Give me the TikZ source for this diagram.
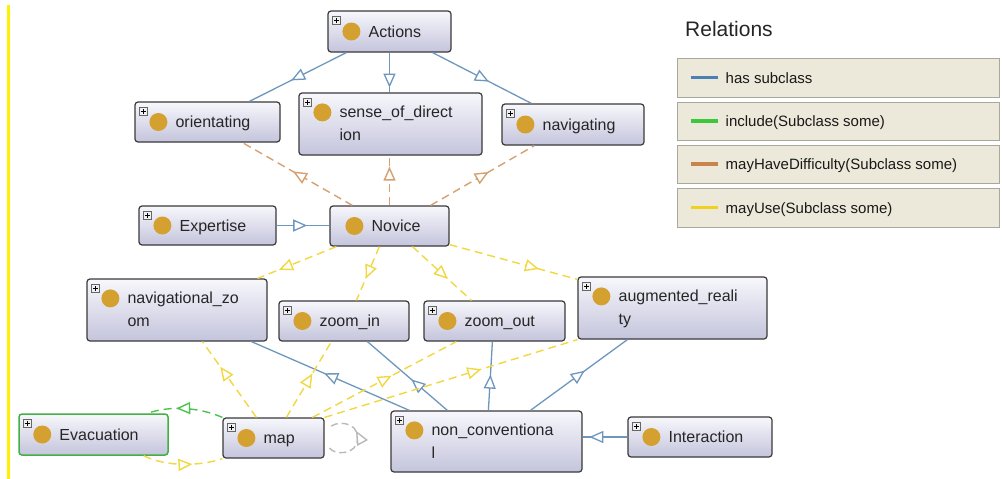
\documentclass[tikz,border=0pt]{standalone}
\usepackage{fontspec}
\setmainfont{Liberation Sans}
\usetikzlibrary{arrows.meta,decorations.markings,fit}

\definecolor{boxborder}{HTML}{3A3A3A}
\definecolor{boxtop}{HTML}{F7F7FC}
\definecolor{boxbot}{HTML}{C4C4DC}
\definecolor{gold}{HTML}{D4A030}
\definecolor{subblue}{HTML}{6E97BE}
\definecolor{incgreen}{HTML}{4CC44C}
\definecolor{diffor}{HTML}{D6A070}
\definecolor{useyel}{HTML}{F2D840}
\definecolor{legbg}{HTML}{ECE9DA}
\definecolor{legborder}{HTML}{A8A89C}
\definecolor{legblue}{HTML}{4A80B4}
\definecolor{leggreen}{HTML}{3CC83C}
\definecolor{legorange}{HTML}{C8844A}
\definecolor{legyellow}{HTML}{F0D21E}

\tikzset{
  clsbox/.style={draw=boxborder, line width=1.2pt, rounded corners=3pt,
    top color=boxtop, bottom color=boxbot, inner sep=0pt},
  lbl/.style={font=\fontsize{16}{23.5}\selectfont, inner sep=0pt, text=black!85, align=left},
  dotmark/.style={circle, fill=gold, minimum size=18pt, inner sep=0pt},
  plusbox/.style={draw=gray!80!black, fill=gray!12, minimum size=8pt, inner sep=0pt, line width=0.5pt,
    path picture={
      \draw[black, line width=0.9pt] ([xshift=1.6pt]path picture bounding box.west) -- ([xshift=-1.6pt]path picture bounding box.east);
      \draw[black, line width=0.9pt] ([yshift=-1.6pt]path picture bounding box.north) -- ([yshift=1.6pt]path picture bounding box.south);}},
  midarrow/.style={postaction={decorate, decoration={markings,
    mark=at position #1 with {\arrow{Triangle[length=14pt,width=12pt,fill=white]}}}}},
  subedge/.style={draw=subblue, line width=1.3pt},
  diffedge/.style={draw=diffor, line width=1.4pt, dash pattern=on 8pt off 5pt},
  useedge/.style={draw=useyel, line width=1.4pt, dash pattern=on 8pt off 5pt},
  incedge/.style={draw=incgreen, line width=1.4pt, dash pattern=on 8pt off 5pt},
  loopedge/.style={draw=gray!55, line width=1.4pt, dash pattern=on 7pt off 4pt},
  legrow/.style={draw=legborder, fill=legbg, line width=1pt, inner sep=0pt},
  legtxt/.style={font=\fontsize{15}{18}\selectfont, inner sep=0pt, text=black!90},
}

\newcommand\owlnode[6][]{%
  \node[clsbox,#1,fit={#3 #4}] (#2) {};
  \node[plusbox] at ([xshift=9pt,yshift=-10pt]#2.north west) {};
  \ifnum#6=0
    \node[dotmark] at ([xshift=24pt]#2.west) {};
    \node[lbl, anchor=base west] at ([xshift=41pt,yshift=-5.5pt]#2.west) {#5};
  \else
    \node[dotmark] at ([xshift=24pt,yshift=-20pt]#2.north west) {};
    \node[lbl, anchor=north west] at ([xshift=41pt,yshift=-12.5pt]#2.north west) {\rule{0pt}{12pt}#5};
  \fi}

\begin{document}
\begin{tikzpicture}[x=1pt,y=-1pt]
\useasboundingbox (0,0) rectangle (1002,479);
\fill[white] (0,0) rectangle (1002,479);
\draw[yellow, line width=3pt] (8,5) -- (8,479);

% class nodes
\owlnode{actions}{(328,11)}{(451,52)}{Actions}{0}
\owlnode{orient}{(135,102)}{(280,142)}{orientating}{0}
\owlnode{sense}{(299,93)}{(482,155)}{sense\_of\_direct\\ion}{1}
\owlnode{navig}{(502,104)}{(644,145)}{navigating}{0}
\owlnode{expert}{(139,206)}{(276,245)}{Expertise}{0}
\node[clsbox, fit={(330,206) (449,246)}] (novice) {};
\node[dotmark] at ([xshift=25pt]novice.west) {};
\node[lbl, anchor=base west] at ([xshift=42pt,yshift=-5.5pt]novice.west) {Novice};
\owlnode{navz}{(87,279)}{(267,341)}{navigational\_zo\\om}{1}
\owlnode{zin}{(279,301)}{(409,341)}{zoom\_in}{0}
\owlnode{zout}{(424,301)}{(565,341)}{zoom\_out}{0}
\owlnode{aug}{(578,277)}{(767,339)}{augmented\_reali\\ty}{1}
\owlnode[draw=incgreen!90!black, line width=1.5pt]{evac}{(19,414)}{(168,455)}{Evacuation}{0}
\owlnode{map}{(223,418)}{(324,458)}{map}{0}
\owlnode{nonc}{(391,411)}{(582,472)}{non\_conventiona\\l}{1}
\owlnode{inter}{(628,417)}{(772,457)}{Interaction}{0}

% has subclass
\draw[subedge, midarrow=0.57] ([xshift=19pt]actions.south west) -- ([xshift=115pt]orient.north west);
\draw[subedge, midarrow=0.88] (actions.south) -- (actions.south |- sense.north);
\draw[subedge, midarrow=0.57] ([xshift=-19pt]actions.south east) -- ([xshift=30pt]navig.north west);
\draw[subedge, midarrow=0.58] (expert.east) -- (expert.east -| novice.west);
\draw[subedge, midarrow=0.54] ([xshift=19pt]nonc.north west) -- ([xshift=165pt]navz.south west);
\draw[subedge, midarrow=0.45] ([xshift=57pt]nonc.north west) -- ([xshift=89pt]zin.south west);
\draw[subedge, midarrow=0.52] ([xshift=98pt]nonc.north west) -- ([xshift=69pt]zout.south west);
\draw[subedge, midarrow=0.56] ([xshift=140pt]nonc.north west) -- ([xshift=50pt]aug.south west);
\draw[subedge, midarrow=0.85] (inter.west) -- (inter.west -| nonc.east);

% mayHaveDifficulty
\draw[diffedge, midarrow=0.54] ([xshift=23pt]novice.north west) -- ([xshift=108pt]orient.south west);
\draw[diffedge, midarrow=0.78] (novice.north) -- (novice.north |- sense.south);
\draw[diffedge, midarrow=0.56] ([xshift=-19pt]novice.north east) -- ([xshift=33pt]navig.south west);

% mayUse
\draw[useedge, midarrow=0.73] ([xshift=7pt]novice.south west) -- ([xshift=-10pt]navz.north east);
\draw[useedge, midarrow=0.6] ([xshift=50pt]novice.south west) -- ([xshift=78pt]zin.north west);
\draw[useedge, midarrow=0.6] ([xshift=83pt]novice.south west) -- ([xshift=48pt]zout.north west);
\draw[useedge, midarrow=0.7] ([yshift=2pt]novice.south east) -- ([yshift=-3pt]aug.north west);
\draw[useedge, midarrow=0.67] ([xshift=34pt]map.north west) -- ([xshift=116pt]navz.south west);
\draw[useedge, midarrow=0.58] ([xshift=64pt]map.north west) -- ([xshift=53pt]zin.south west);
\draw[useedge, midarrow=0.55] ([xshift=90pt]map.north west) -- ([xshift=33pt]zout.south west);
\draw[useedge, midarrow=0.62] (map.north east) -- (aug.south west);
\draw[useedge, midarrow=0.62] ([xshift=-25pt]evac.south east) .. controls +(22,11) and +(-23,8) .. (map.south west);

% include
\draw[incedge, midarrow=0.62] (map.north west) .. controls +(-23,-10) and +(23,-8) .. ([xshift=-21pt]evac.north east);

% self loop on map
\draw[loopedge, midarrow=0.6] ([xshift=5pt,yshift=-10pt]map.east)
  .. controls +(4,7) and +(0,18) .. ([xshift=33pt]map.east)
  .. controls +(0,-18) and +(4,-7) .. ([xshift=5pt,yshift=10pt]map.east);

% legend
\node[font=\fontsize{21}{24}\selectfont, anchor=base west, inner sep=0pt, text=black!85] (reltitle) at (685,36) {Relations};
\node[legrow, fit={(677,58) (999,97)}] (row1) {};
\node[legrow, fit={(677,102) (999,140)}] (row2) {};
\node[legrow, fit={(677,145) (999,183)}] (row3) {};
\node[legrow, fit={(677,188) (999,227)}] (row4) {};
\draw[legblue, line width=3.5pt] ([xshift=14pt]row1.west) -- ([xshift=41pt]row1.west);
\draw[leggreen, line width=3.5pt] ([xshift=14pt]row2.west) -- ([xshift=41pt]row2.west);
\draw[legorange, line width=3.5pt] ([xshift=14pt]row3.west) -- ([xshift=41pt]row3.west);
\draw[legyellow, line width=3.5pt] ([xshift=14pt]row4.west) -- ([xshift=41pt]row4.west);
\node[legtxt, anchor=base west] at ([xshift=49pt,yshift=-5.5pt]row1.west) {has subclass};
\node[legtxt, anchor=base west] at ([xshift=49pt,yshift=-5.5pt]row2.west) {include(Subclass some)};
\node[legtxt, anchor=base west] at ([xshift=49pt,yshift=-5.5pt]row3.west) {mayHaveDifficulty(Subclass some)};
\node[legtxt, anchor=base west] at ([xshift=49pt,yshift=-5.5pt]row4.west) {mayUse(Subclass some)};
\end{tikzpicture}
\end{document}
